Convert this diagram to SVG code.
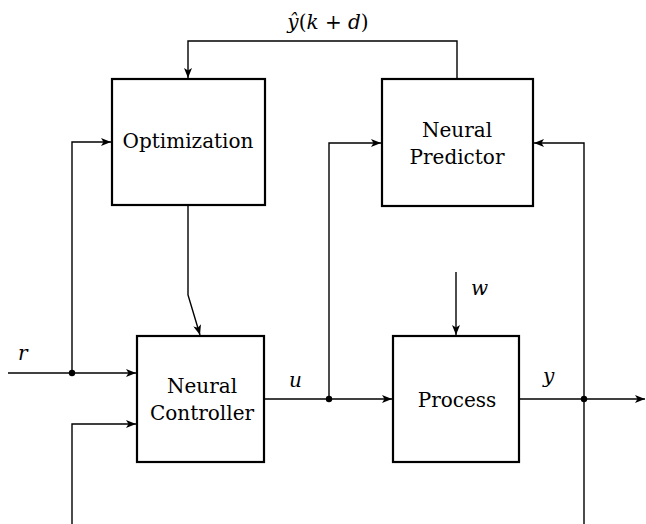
<svg xmlns="http://www.w3.org/2000/svg" width="646" height="524" viewBox="0 0 646 524">
<style>
.box{fill:#fff;stroke:#000;stroke-width:2.2}
.t{font-family:"DejaVu Serif",serif;font-size:20px;fill:#000;text-anchor:middle}
.m{font-family:"DejaVu Serif",serif;font-size:20px;font-style:italic;fill:#000}
.ln{fill:none;stroke:#000;stroke-width:1.4}
</style>
<defs>
<marker id="ah" viewBox="0 0 10 8" refX="10" refY="4" markerWidth="10" markerHeight="8" markerUnits="userSpaceOnUse" orient="auto">
<path d="M0,0 L10,4 L0,8 L2.5,4 Z" fill="#000"/>
</marker>
</defs>
<g id="connectors">
<path class="ln" d="M457,79 V41 H188 V78" marker-end="url(#ah)"/>
<path class="ln" d="M8,373 H136" marker-end="url(#ah)"/>
<path class="ln" d="M72,373 V142 H111" marker-end="url(#ah)"/>
<path class="ln" d="M72,524 V424 H136" marker-end="url(#ah)"/>
<path class="ln" d="M188,206 V295 L200,335" marker-end="url(#ah)"/>
<path class="ln" d="M264,399 H392" marker-end="url(#ah)"/>
<path class="ln" d="M329,399 V143 H381" marker-end="url(#ah)"/>
<path class="ln" d="M456,272 V335" marker-end="url(#ah)"/>
<path class="ln" d="M519,399 H645" marker-end="url(#ah)"/>
<path class="ln" d="M584,524 V143 H534" marker-end="url(#ah)"/>
<circle cx="72" cy="373" r="3.2" fill="#000"/>
<circle cx="329" cy="399" r="3.2" fill="#000"/>
<circle cx="584" cy="399" r="3.2" fill="#000"/>
<text class="m" x="18" y="360">r</text>
<text class="m" x="289" y="387">u</text>
<text class="m" x="471" y="295">w</text>
<text class="m" x="543" y="383">y</text>
<text x="328" y="29" font-family="'DejaVu Serif',serif" font-size="20" text-anchor="middle"><tspan font-style="italic">ŷ</tspan>(<tspan font-style="italic">k</tspan> + <tspan font-style="italic">d</tspan>)</text>
</g>
<g id="optimization">
<rect class="box" x="112" y="79" width="153" height="126"/>
<text class="t" x="188" y="148">Optimization</text>
</g>
<g id="neural-predictor">
<rect class="box" x="382" y="79" width="151" height="127"/>
<text class="t" x="457" y="137">Neural</text>
<text class="t" x="457" y="164">Predictor</text>
</g>
<g id="neural-controller">
<rect class="box" x="137" y="336" width="127" height="126"/>
<text class="t" x="202" y="393">Neural</text>
<text class="t" x="202" y="420">Controller</text>
</g>
<g id="process">
<rect class="box" x="393" y="336" width="126" height="126"/>
<text class="t" x="457" y="407">Process</text>
</g>
</svg>
